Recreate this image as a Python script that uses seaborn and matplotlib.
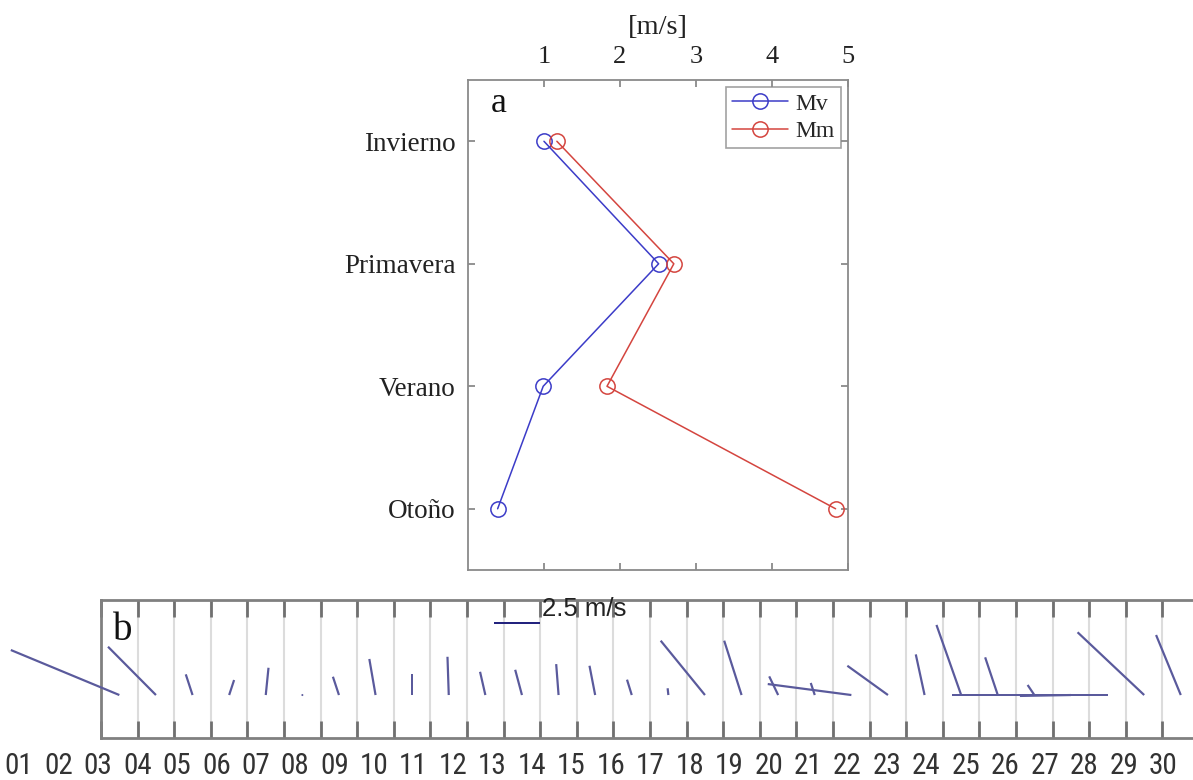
import numpy as np
import pandas as pd
import matplotlib
matplotlib.use("Agg")
import matplotlib.pyplot as plt
from matplotlib import font_manager
import seaborn as sns

# ---------------- data ----------------
seasons = ["Invierno", "Primavera", "Verano", "Otoño"]
mv = [1.00, 2.51, 0.99, 0.39]
mm = [1.17, 2.71, 1.83, 4.84]
speed_ticks = [1, 2, 3, 4, 5]

days = ["%02d" % d for d in range(1, 31)]
u = [-5.93, -2.62, -0.37, 0.27, 0.15, 0.00, -0.33, -0.34, 0.00, -0.07,
     -0.29, -0.37, -0.13, -0.31, -0.26, -0.04, -2.42, -0.95, -0.49, -0.22,
     -4.57, -2.22, -0.48, -1.35, -0.69, -0.37, -2.79, -8.52, -3.64, -1.35]
v = [2.46, 2.64, 1.13, 0.82, 1.49, 0.11, 1.00, 1.97, 1.15, 2.09,
     1.27, 1.38, 1.69, 1.60, 0.84, 0.37, 2.97, 2.97, 1.02, 0.66,
     0.60, 1.60, 2.22, 3.83, 2.06, 0.55, -0.05, 0.00, 3.43, 3.28]
key_speed = 2.5

# ---------------- style ----------------
sns.set_style("white")
names = {f.name for f in font_manager.fontManager.ttflist}
serif = "Liberation Serif" if "Liberation Serif" in names else "DejaVu Serif"
sans = "Liberation Sans" if "Liberation Sans" in names else "DejaVu Sans"
narrow, day_size = sans, 18.5
for cand in ["Liberation Sans Narrow", "Roboto Condensed", "DejaVu Sans Condensed"]:
    if cand in names:
        narrow, day_size = cand, 21
        break

fig = plt.figure(figsize=(11.93, 7.80), dpi=100)

# ---------------- panel a ----------------
axa = fig.add_axes([0.3923, 0.2692, 0.3183, 0.6282])
df = pd.DataFrame({
    "pos": list(range(len(seasons))) * 2,
    "vel": mv + mm,
    "serie": ["Mv"] * len(mv) + ["Mm"] * len(mm),
})
for name, col in [("Mv", "#3c3cc8"), ("Mm", "#d4453f")]:
    sub = df[df["serie"] == name]
    sns.lineplot(data=sub, x="vel", y="pos", sort=False, estimator=None,
                 color=col, marker="o", markersize=11, mfc="none", mec=col,
                 mew=1.1, lw=1.1, label=name, ax=axa)

axa.set_xlim(0, 5)
axa.set_ylim(len(seasons) - 0.5, -0.5)
axa.set_xticks(speed_ticks)
axa.set_xticklabels([str(t) for t in speed_ticks], fontfamily=serif,
                    fontsize=19, color="#222222")
axa.set_yticks(range(len(seasons)))
axa.set_yticklabels(seasons, fontfamily=serif, fontsize=19.5, color="#222222")
axa.xaxis.tick_top()
axa.xaxis.set_label_position("top")
axa.set_xlabel("[m/s]", fontfamily=serif, fontsize=20.5, color="#222222",
               labelpad=8)
axa.set_ylabel("")
axa.tick_params(axis="both", direction="in", top=True, bottom=True,
                left=True, right=True, labeltop=True, labelbottom=False,
                length=5, width=1.2, color="#808080")
axa.tick_params(axis="x", pad=9)
axa.tick_params(axis="y", pad=9)
for s in axa.spines.values():
    s.set_color("#8a8a8a")
    s.set_linewidth(1.3)
axa.text(0.06, 0.935, "a", transform=axa.transAxes, fontfamily=serif,
         fontsize=26, va="baseline", ha="left", color="#111111")
leg = axa.legend(loc="upper right", prop={"family": serif, "size": 17},
                 frameon=True, fancybox=False, edgecolor="#8a8a8a",
                 borderaxespad=0.3, borderpad=0.25, handlelength=2.4,
                 handletextpad=0.3, labelspacing=0.25)
leg.get_frame().set_linewidth(1.2)

# ---------------- panel b ----------------
axb = fig.add_axes([0.0847, 0.0538, 0.9204, 0.1769])
xd = np.arange(1, len(days) + 1)
Q = axb.quiver(xd, np.zeros(len(xd)), u, v, angles="uv", scale_units="y",
               scale=1, units="dots", width=2.2, headwidth=0, headlength=0,
               headaxislength=0, color="#5a5a9c", pivot="tail", zorder=3)
Q.set_clip_on(False)
axb.set_xlim(0.5, len(days) + 0.5)
axb.set_ylim(-2.35, 5.19)
axb.set_xticks(np.arange(0.5, len(days) + 1, 1))
axb.set_xticklabels([])
axb.set_yticks([])
axb.grid(axis="x", color="#dcdcdc", lw=1.5)
axb.tick_params(axis="x", direction="in", length=12, width=2,
                color="#707070", top=True, bottom=True)
for s in axb.spines.values():
    s.set_color("#808080")
    s.set_linewidth(2)
axb.text(113 / 1193, 1 - 640 / 780, "b", transform=fig.transFigure,
         fontfamily=serif, fontsize=28, va="baseline", ha="left",
         color="#111111")

axb.quiverkey(Q, 540 / 1193, 1 - 623.3 / 780, key_speed, "", labelpos="E",
              coordinates="figure", color="#23237e")
fig.text(541.7 / 1193, 1 - 609 / 780, "%g m/s" % key_speed, fontfamily=sans,
         fontsize=18.5, va="center", ha="left", color="#222222")

# day labels (offset row, as in the reference)
axl = fig.add_axes([-0.0006, 0.0538, 0.992, 0.0001])
axl.set_xlim(0.5, len(days) + 0.5)
axl.set_xticks(xd)
axl.set_xticklabels(days, fontfamily=narrow, fontsize=day_size, color="#333333")
axl.tick_params(axis="x", length=0, pad=10)
axl.set_yticks([])
for s in axl.spines.values():
    s.set_visible(False)
axl.patch.set_visible(False)

fig.savefig("out.png", dpi=100)
